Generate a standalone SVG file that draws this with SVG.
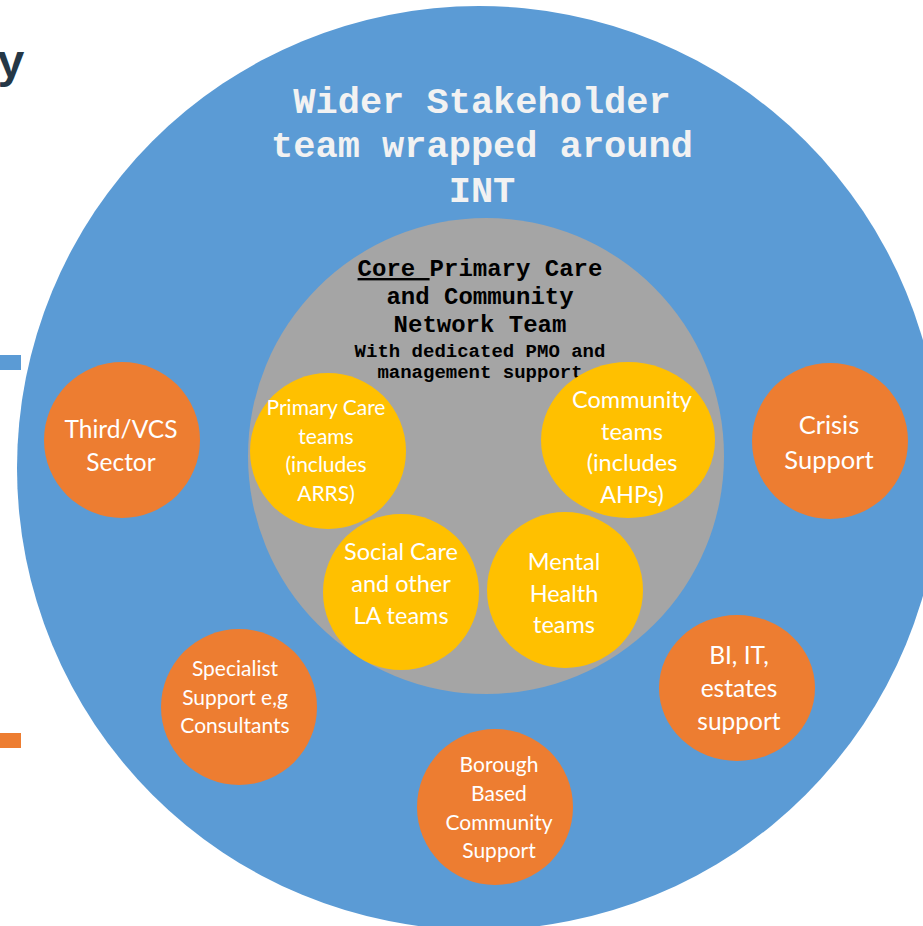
<svg xmlns="http://www.w3.org/2000/svg" width="923" height="926" viewBox="0 0 923 926">
  <style>
    .mono { font-family: "Liberation Mono", "Courier New", monospace; font-weight: bold; text-anchor: middle; }
    .title { fill: #F2F2F2; font-size: 37px; }
    .core { fill: #000000; font-size: 24px; }
    .coresub { fill: #000000; font-size: 19px; }
    .lbl { font-family: Lato, "Liberation Sans", sans-serif; fill: #FFFFFF; text-anchor: middle; }
    .outer { fill: #5B9BD5; }
    .core-disc { fill: #A5A5A5; }
    .team { fill: #FFC000; }
    .partner { fill: #ED7D31; }
  </style>

  <!-- heading fragment at the top left -->
  <text x="25" y="77" class="mono" style="fill:#253746;font-size:47px;text-anchor:end">y</text>

  <!-- legend swatches on the left edge -->
  <rect x="0" y="355" width="21" height="15" fill="#5B9BD5"/>
  <rect x="0" y="733" width="21" height="15" fill="#ED7D31"/>

  <!-- wider stakeholder ring -->
  <g id="wider-stakeholder">
    <circle class="outer" cx="479" cy="468" r="462"/>
    <text class="mono title" x="482" y="113">Wider Stakeholder</text>
    <text class="mono title" x="482" y="157">team wrapped around</text>
    <text class="mono title" x="482" y="202">INT</text>
  </g>

  <!-- core network team -->
  <g id="core-team">
    <circle class="core-disc" cx="486" cy="456" r="238"/>
    <text class="mono core" x="480" y="276"><tspan text-decoration="underline">Core </tspan>Primary Care</text>
    <text class="mono core" x="480" y="304">and Community</text>
    <text class="mono core" x="480" y="332">Network Team</text>
    <text class="mono coresub" x="480" y="357">With dedicated PMO and</text>
    <text class="mono coresub" x="480" y="378">management support</text>
  </g>

  <!-- core teams -->
  <g id="primary-care">
    <circle class="team" cx="328" cy="451" r="78"/>
    <text class="lbl" style="font-size:21px"><tspan x="326" y="415">Primary Care</tspan><tspan x="326" y="444">teams</tspan><tspan x="326" y="472">(includes</tspan><tspan x="326" y="501">ARRS)</tspan></text>
  </g>
  <g id="community">
    <ellipse class="team" cx="628" cy="440" rx="87" ry="78"/>
    <text class="lbl" style="font-size:23.5px"><tspan x="632" y="408">Community</tspan><tspan x="632" y="440">teams</tspan><tspan x="632" y="471">(includes</tspan><tspan x="632" y="503">AHPs)</tspan></text>
  </g>
  <g id="social-care">
    <circle class="team" cx="401" cy="592" r="78"/>
    <text class="lbl" style="font-size:23.5px"><tspan x="401" y="560">Social Care</tspan><tspan x="401" y="592">and other</tspan><tspan x="401" y="624">LA teams</tspan></text>
  </g>
  <g id="mental-health">
    <circle class="team" cx="565" cy="590" r="78"/>
    <text class="lbl" style="font-size:23.5px"><tspan x="564" y="570">Mental</tspan><tspan x="564" y="602">Health</tspan><tspan x="564" y="633">teams</tspan></text>
  </g>

  <!-- wider stakeholders -->
  <g id="third-sector">
    <circle class="partner" cx="122" cy="440" r="78"/>
    <text class="lbl" style="font-size:24.5px"><tspan x="121" y="438">Third/VCS</tspan><tspan x="121" y="471">Sector</tspan></text>
  </g>
  <g id="crisis">
    <circle class="partner" cx="830" cy="441" r="78"/>
    <text class="lbl" style="font-size:25.5px"><tspan x="829" y="434">Crisis</tspan><tspan x="829" y="469">Support</tspan></text>
  </g>
  <g id="specialist">
    <circle class="partner" cx="239" cy="707" r="78"/>
    <text class="lbl" style="font-size:21px"><tspan x="235" y="676">Specialist</tspan><tspan x="235" y="705">Support e,g</tspan><tspan x="235" y="733">Consultants</tspan></text>
  </g>
  <g id="bi-it-estates">
    <ellipse class="partner" cx="737" cy="688" rx="78" ry="73"/>
    <text class="lbl" style="font-size:24.5px"><tspan x="739" y="664">BI, IT,</tspan><tspan x="739" y="697">estates</tspan><tspan x="739" y="730">support</tspan></text>
  </g>
  <g id="borough">
    <circle class="partner" cx="495" cy="807" r="78"/>
    <text class="lbl" style="font-size:21px"><tspan x="499" y="772">Borough</tspan><tspan x="499" y="801">Based</tspan><tspan x="499" y="830">Community</tspan><tspan x="499" y="858">Support</tspan></text>
  </g>
</svg>
